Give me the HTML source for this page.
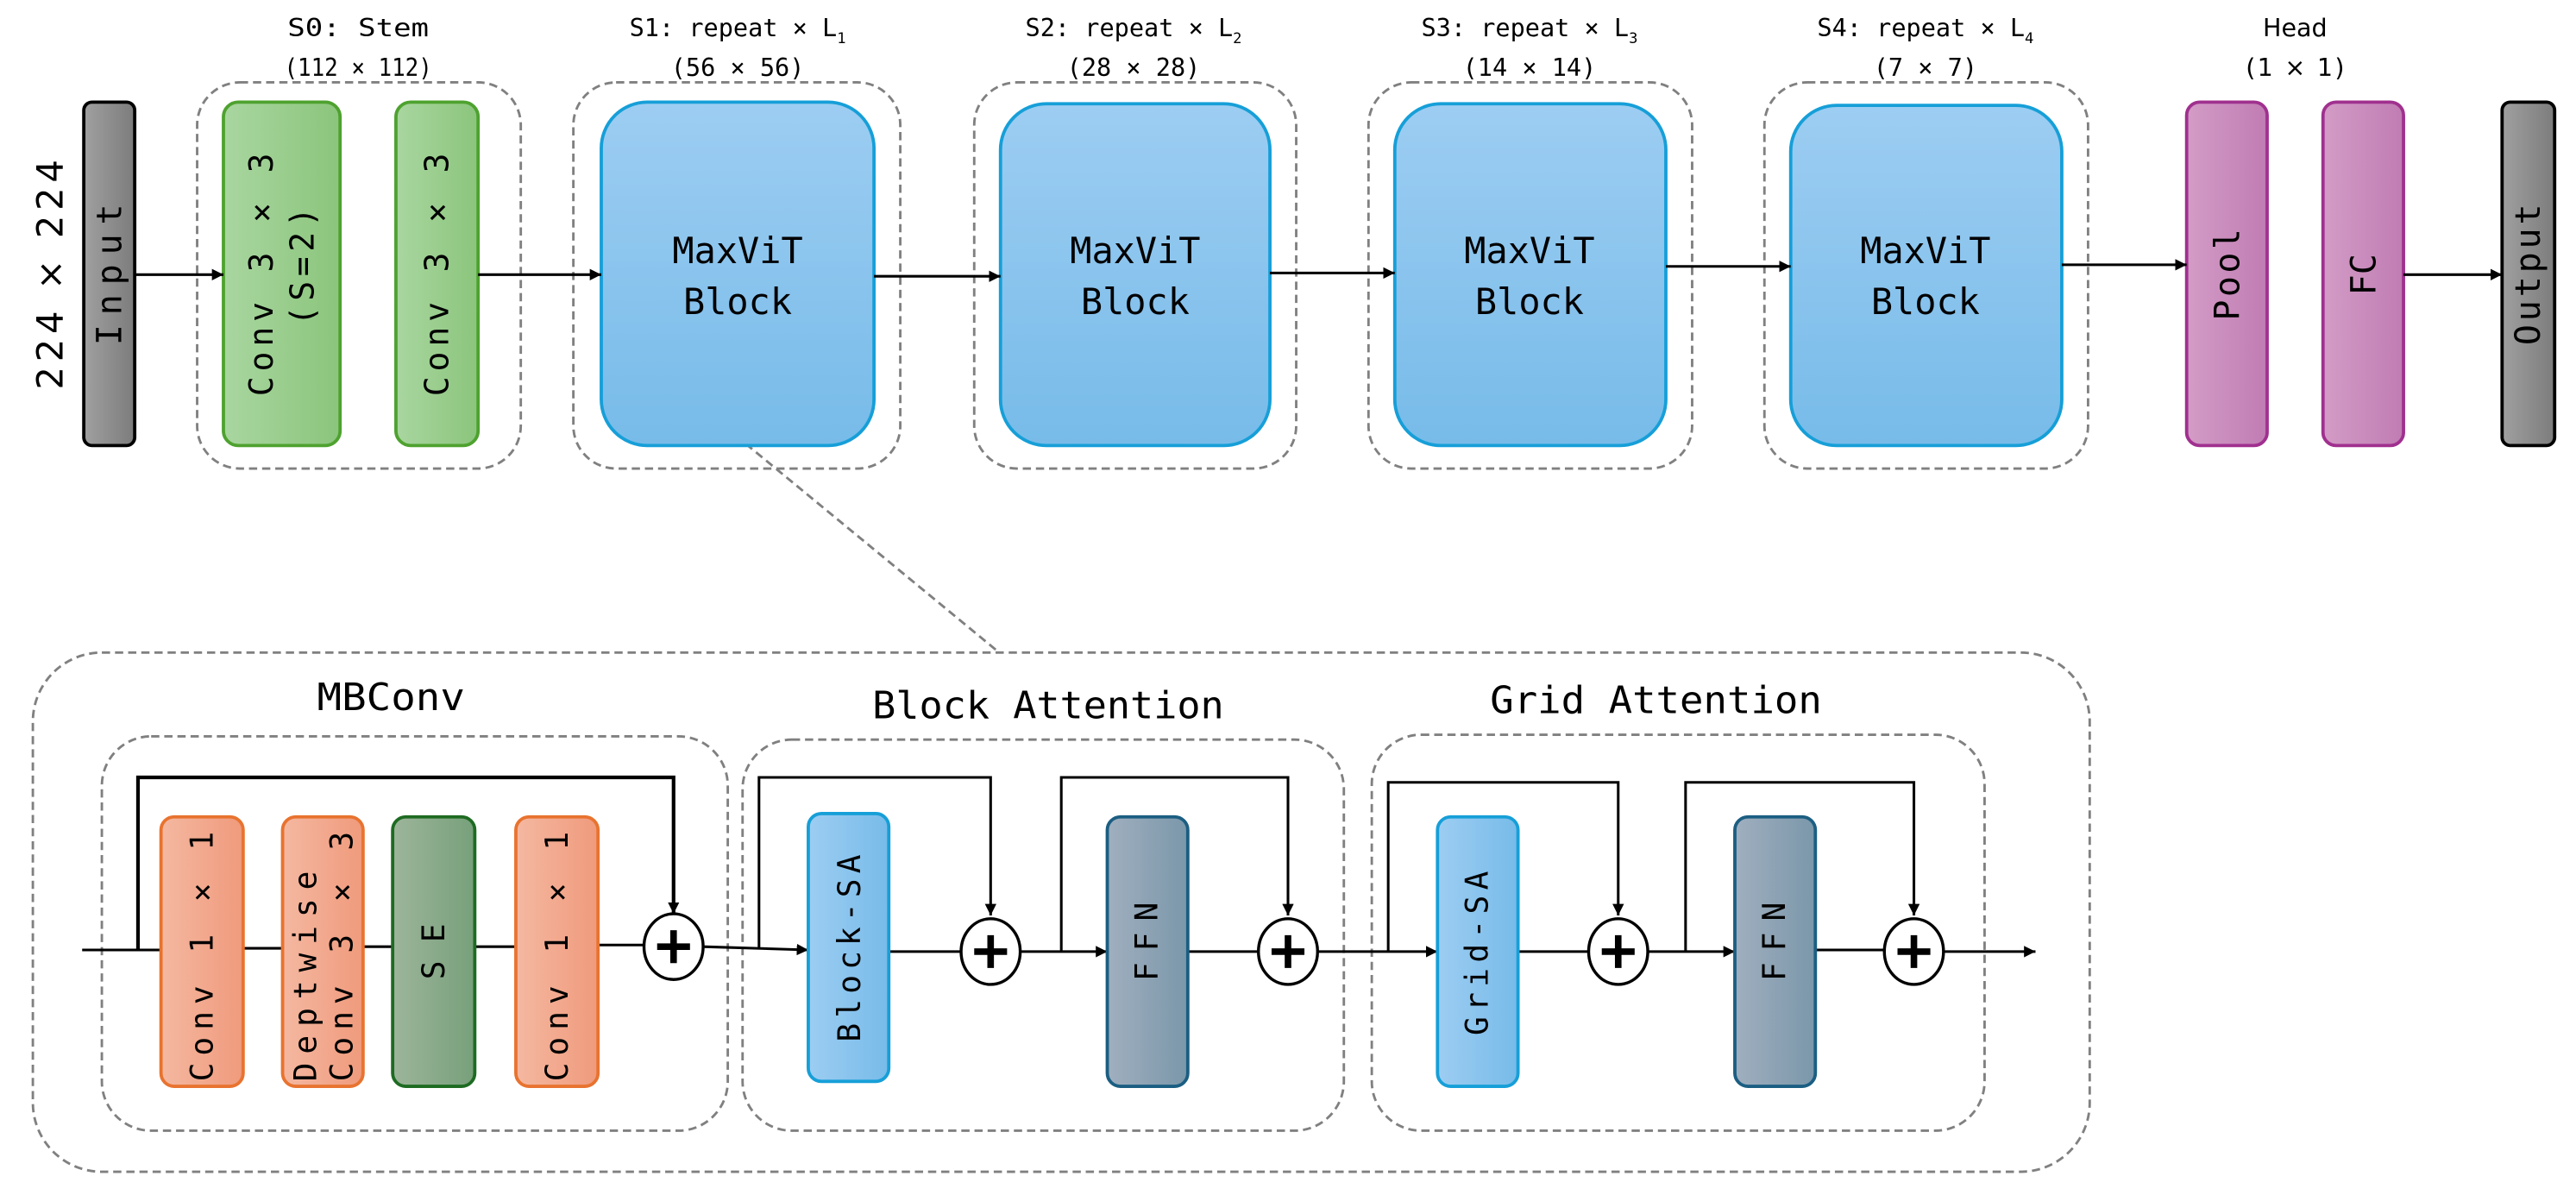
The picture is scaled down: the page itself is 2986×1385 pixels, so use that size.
<!DOCTYPE html>
<html><head><meta charset="utf-8"><style>
html,body{margin:0;padding:0;background:#fff;}
svg{display:block}
text{font-family:"DejaVu Sans Mono","Liberation Mono",monospace;fill:#000}
</style></head><body>
<svg width="2986" height="1385" viewBox="0 0 1568 727" xmlns="http://www.w3.org/2000/svg">
<defs>
<linearGradient id="gGray" x1="0" x2="1" y1="0" y2="0"><stop offset="0" stop-color="#a0a0a0"/><stop offset="1" stop-color="#7c7c7c"/></linearGradient>
<linearGradient id="gGreen" x1="0" x2="1"><stop offset="0" stop-color="#a9d6a0"/><stop offset="1" stop-color="#8bc57c"/></linearGradient>
<linearGradient id="gBlue" x1="0" x2="0" y1="0" y2="1"><stop offset="0" stop-color="#9dcdf2"/><stop offset="1" stop-color="#77bbe9"/></linearGradient>
<linearGradient id="gBlueH" x1="0" x2="1"><stop offset="0" stop-color="#9dcdf2"/><stop offset="1" stop-color="#77bbe9"/></linearGradient>
<linearGradient id="gPurple" x1="0" x2="1"><stop offset="0" stop-color="#d39cc6"/><stop offset="1" stop-color="#c07cb3"/></linearGradient>
<linearGradient id="gOrange" x1="0" x2="1"><stop offset="0" stop-color="#f4b8a1"/><stop offset="1" stop-color="#f09a7c"/></linearGradient>
<linearGradient id="gSE" x1="0" x2="1"><stop offset="0" stop-color="#9db59b"/><stop offset="1" stop-color="#77a07a"/></linearGradient>
<linearGradient id="gSlate" x1="0" x2="1"><stop offset="0" stop-color="#a0afbf"/><stop offset="1" stop-color="#7a97aa"/></linearGradient>
<marker id="ar" viewBox="0 0 10 10" refX="10" refY="5" markerWidth="7" markerHeight="7" markerUnits="userSpaceOnUse" orient="auto"><path d="M0,0 L10,5 L0,10 z" fill="#000"/></marker>
</defs>

<!-- top title labels -->
<g font-size="15" text-anchor="middle">
<text x="218" y="22" textLength="86" lengthAdjust="spacingAndGlyphs">S0: Stem</text><text x="218" y="46" textLength="90" lengthAdjust="spacingAndGlyphs">(112 × 112)</text>
<text x="449" y="22">S1: repeat × L<tspan font-size="9" dy="4">1</tspan></text><text x="449" y="46">(56 × 56)</text>
<text x="690" y="22">S2: repeat × L<tspan font-size="9" dy="4">2</tspan></text><text x="690" y="46">(28 × 28)</text>
<text x="931" y="22">S3: repeat × L<tspan font-size="9" dy="4">3</tspan></text><text x="931" y="46">(14 × 14)</text>
<text x="1172" y="22">S4: repeat × L<tspan font-size="9" dy="4">4</tspan></text><text x="1172" y="46">(7 × 7)</text>
<text x="1397" y="22" style="font-family:'DejaVu Sans',sans-serif">Head</text><text x="1397" y="46" textLength="60" lengthAdjust="spacing" style="font-family:'DejaVu Sans',sans-serif">(1 × 1)</text>
</g>

<text transform="translate(38,167) rotate(-90)" font-size="22" text-anchor="middle" textLength="140" lengthAdjust="spacing" style="font-family:'DejaVu Sans',sans-serif">224 × 224</text>

<!-- dashed stage boxes -->
<g fill="none" stroke="#808080" stroke-width="1.5" stroke-dasharray="5,3">
<rect x="120" y="50" width="197" height="235" rx="26"/>
<rect x="349" y="50" width="199" height="235" rx="26"/>
<rect x="593" y="50" width="196" height="235" rx="26"/>
<rect x="833" y="50" width="197" height="235" rx="26"/>
<rect x="1074" y="50" width="197" height="235" rx="26"/>
<line x1="454" y1="270" x2="607" y2="396"/>
<rect x="20" y="397" width="1252" height="316" rx="42"/>
<rect x="62" y="448" width="381" height="240" rx="30"/>
<rect x="452" y="450" width="366" height="238" rx="30"/>
<rect x="835" y="447" width="373" height="241" rx="30"/>
</g>

<!-- top row boxes -->
<rect x="51" y="62" width="31" height="209" rx="5" fill="url(#gGray)" stroke="#000" stroke-width="2"/>
<text transform="translate(67,167) rotate(-90)" font-size="21" text-anchor="middle" dominant-baseline="central" textLength="86" lengthAdjust="spacing">Input</text>

<rect x="136" y="62" width="71" height="209" rx="9" fill="url(#gGreen)" stroke="#4ea22f" stroke-width="2"/>
<text transform="translate(159,167) rotate(-90)" font-size="20" text-anchor="middle" dominant-baseline="central" textLength="148" lengthAdjust="spacing">Conv 3 × 3</text>
<text transform="translate(184,162) rotate(-90)" font-size="20" text-anchor="middle" dominant-baseline="central" textLength="72" lengthAdjust="spacing">(S=2)</text>
<rect x="241" y="62" width="50" height="209" rx="9" fill="url(#gGreen)" stroke="#4ea22f" stroke-width="2"/>
<text transform="translate(266,167) rotate(-90)" font-size="20" text-anchor="middle" dominant-baseline="central" textLength="148" lengthAdjust="spacing">Conv 3 × 3</text>

<g fill="url(#gBlue)" stroke="#169fd8" stroke-width="2">
<rect x="366" y="62" width="166" height="209" rx="28"/>
<rect x="609" y="63" width="164" height="208" rx="28"/>
<rect x="849" y="63" width="165" height="208" rx="28"/>
<rect x="1090" y="64" width="165" height="207" rx="28"/>
</g>
<g font-size="22" text-anchor="middle">
<text x="449" y="160">MaxViT</text><text x="449" y="191">Block</text>
<text x="691" y="160">MaxViT</text><text x="691" y="191">Block</text>
<text x="931" y="160">MaxViT</text><text x="931" y="191">Block</text>
<text x="1172" y="160">MaxViT</text><text x="1172" y="191">Block</text>
</g>

<rect x="1331" y="62" width="49" height="209" rx="8" fill="url(#gPurple)" stroke="#a0308f" stroke-width="2"/>
<text transform="translate(1356,167) rotate(-90)" font-size="21" text-anchor="middle" dominant-baseline="central" textLength="56" lengthAdjust="spacing">Pool</text>
<rect x="1414" y="62" width="49" height="209" rx="8" fill="url(#gPurple)" stroke="#a0308f" stroke-width="2"/>
<text transform="translate(1439,167) rotate(-90)" font-size="21" text-anchor="middle" dominant-baseline="central">FC</text>
<rect x="1523" y="62" width="32" height="209" rx="5" fill="url(#gGray)" stroke="#000" stroke-width="2"/>
<text transform="translate(1539,167) rotate(-90)" font-size="21" text-anchor="middle" dominant-baseline="central" textLength="86" lengthAdjust="spacing">Output</text>

<g stroke="#000" stroke-width="1.6" fill="none">
<line x1="82" y1="167" x2="136" y2="167" marker-end="url(#ar)"/>
<line x1="291" y1="167" x2="366" y2="167" marker-end="url(#ar)"/>
<line x1="532" y1="168" x2="609" y2="168" marker-end="url(#ar)"/>
<line x1="773" y1="166" x2="849" y2="166" marker-end="url(#ar)"/>
<line x1="1014" y1="162" x2="1090" y2="162" marker-end="url(#ar)"/>
<line x1="1255" y1="161" x2="1331" y2="161" marker-end="url(#ar)"/>
<line x1="1463" y1="167" x2="1523" y2="167" marker-end="url(#ar)"/>
</g>

<!-- bottom titles -->
<g font-size="23" text-anchor="middle">
<text x="238" y="432" textLength="90" lengthAdjust="spacingAndGlyphs">MBConv</text>
<text x="638" y="437" textLength="214" lengthAdjust="spacingAndGlyphs">Block Attention</text>
<text x="1008" y="434" textLength="202" lengthAdjust="spacingAndGlyphs">Grid Attention</text>
</g>

<!-- bottom connectors -->
<g stroke="#000" stroke-width="1.6" fill="none">
<path d="M50,578 L98,578"/>
<path d="M148,577 L172,577 M221,576 L239,576 M289,576 L314,576 M364,575 L392,575"/>
<path d="M84,578 L84,473 L410,473 L410,556" stroke-width="2.2" marker-end="url(#ar)"/>
<path d="M428,576 L492,578" marker-end="url(#ar)"/>
<path d="M462,577 L462,473 L603,473 L603,557" marker-end="url(#ar)"/>
<path d="M541,579 L585,579 M621,579 L674,579" marker-end="url(#ar)"/>
<path d="M646,579 L646,473 L784,473 L784,557" marker-end="url(#ar)"/>
<path d="M723,579 L766,579 M802,579 L875,579" marker-end="url(#ar)"/>
<path d="M845,579 L845,476 L985,476 L985,557" marker-end="url(#ar)"/>
<path d="M924,579 L967,579 M1003,579 L1056,579" marker-end="url(#ar)"/>
<path d="M1026,579 L1026,476 L1165,476 L1165,557" marker-end="url(#ar)"/>
<path d="M1105,578 L1147,578 M1183,579 L1239,579" marker-end="url(#ar)"/>
</g>

<!-- plus circles -->
<g stroke="#000" stroke-width="1.8" fill="#fff">
<ellipse cx="410" cy="576" rx="18" ry="20"/>
<ellipse cx="603" cy="579" rx="18" ry="20"/>
<ellipse cx="784" cy="579" rx="18" ry="20"/>
<ellipse cx="985" cy="579" rx="18" ry="20"/>
<ellipse cx="1165" cy="579" rx="18" ry="20"/>
</g>
<g stroke="#000" stroke-width="4" fill="none">
<path d="M400,576 h20 M410,566 v20"/>
<path d="M593,579 h20 M603,569 v20"/>
<path d="M774,579 h20 M784,569 v20"/>
<path d="M975,579 h20 M985,569 v20"/>
<path d="M1155,579 h20 M1165,569 v20"/>
</g>

<!-- bottom blocks -->
<g stroke-width="2">
<rect x="98" y="497" width="50" height="164" rx="8" fill="url(#gOrange)" stroke="#e8732f"/>
<rect x="172" y="497" width="49" height="164" rx="8" fill="url(#gOrange)" stroke="#e8732f"/>
<rect x="239" y="497" width="50" height="164" rx="8" fill="url(#gSE)" stroke="#1e6b22"/>
<rect x="314" y="497" width="50" height="164" rx="8" fill="url(#gOrange)" stroke="#e8732f"/>
<rect x="492" y="495" width="49" height="163" rx="8" fill="url(#gBlueH)" stroke="#169fd8"/>
<rect x="674" y="497" width="49" height="164" rx="8" fill="url(#gSlate)" stroke="#1b5e82"/>
<rect x="875" y="497" width="49" height="164" rx="8" fill="url(#gBlueH)" stroke="#169fd8"/>
<rect x="1056" y="497" width="49" height="164" rx="8" fill="url(#gSlate)" stroke="#1b5e82"/>
</g>
<g font-size="19" text-anchor="middle" dominant-baseline="central">
<text transform="translate(123,582) rotate(-90)" textLength="152" lengthAdjust="spacing">Conv 1 × 1</text>
<text transform="translate(186,594) rotate(-90)" textLength="128" lengthAdjust="spacing">Deptwise</text>
<text transform="translate(208,582) rotate(-90)" textLength="152" lengthAdjust="spacing">Conv 3 × 3</text>
<text transform="translate(264,579) rotate(-90)" textLength="34" lengthAdjust="spacing">SE</text>
<text transform="translate(339,582) rotate(-90)" textLength="152" lengthAdjust="spacing">Conv 1 × 1</text>
<text transform="translate(517,577) rotate(-90)" textLength="114" lengthAdjust="spacing">Block-SA</text>
<text transform="translate(698,573) rotate(-90)" textLength="48" lengthAdjust="spacing">FFN</text>
<text transform="translate(899,580) rotate(-90)" textLength="100" lengthAdjust="spacing">Grid-SA</text>
<text transform="translate(1080,573) rotate(-90)" textLength="48" lengthAdjust="spacing">FFN</text>
</g>
</svg>
</body></html>
